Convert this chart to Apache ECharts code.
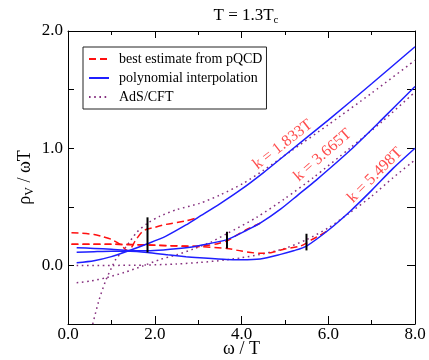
<!DOCTYPE html>
<html>
<head>
<meta charset="utf-8">
<script src="https://cdn.jsdelivr.net/npm/echarts@6/dist/echarts.min.js"></script>
<style>
  html, body { margin: 0; padding: 0; background: #fff; }
  #main { width: 429px; height: 360px; }
</style>
</head>
<body>
<div id="main"></div>
<script>
// momenta k/T for the three sets of curves
const kValues = [1.833, 3.665, 5.498];
const kLabels = ['k = 1.833T', 'k = 3.665T', 'k = 5.498T'];

// polynomial interpolation (blue, solid)
const blue1 = [[0.2,0.023],[0.6,0.04],[1.0,0.075],[1.4,0.125],[1.833,0.185],[2.26,0.25],[2.72,0.345],[3.0,0.41],[3.5,0.525],[4.0,0.65],[4.5,0.79],[5.0,0.94],[6.0,1.24],[7.0,1.55],[8.0,1.866]];
const blue2 = [[0.2,0.15],[0.6,0.145],[1.0,0.137],[1.4,0.128],[1.833,0.125],[2.2,0.132],[2.72,0.15],[3.04,0.17],[3.665,0.22],[4.12,0.3],[4.43,0.36],[4.9,0.48],[5.3,0.6],[5.73,0.73],[6.5,0.98],[7.25,1.25],[8.0,1.526]];
const blue3 = [[0.2,0.113],[0.6,0.117],[1.0,0.12],[1.43,0.12],[1.833,0.11],[2.3,0.09],[2.72,0.074],[3.04,0.065],[3.66,0.05],[4.0,0.048],[4.43,0.055],[4.9,0.094],[5.2,0.125],[5.498,0.165],[6.0,0.3],[6.5,0.46],[7.0,0.64],[7.5,0.83],[8.0,1.0]];

// best estimate from pQCD (red, dashed)
const pqcd1 = [[0.08,0.278],[0.3,0.275],[0.6,0.264],[0.8,0.245],[1.0,0.222],[1.2,0.18],[1.38,0.125],[1.46,0.15],[1.55,0.21],[1.72,0.29],[1.833,0.31],[1.95,0.32],[2.26,0.35],[2.72,0.38],[3.0,0.41]];
const pqcd2 = [[0.08,0.18],[0.5,0.18],[1.0,0.18],[1.5,0.178],[2.0,0.172],[2.5,0.165],[2.9,0.163],[3.2,0.17],[3.45,0.185],[3.665,0.21],[3.9,0.26],[4.12,0.306],[4.43,0.36]];
const pqcd3 = [[0.08,0.18],[1.0,0.18],[2.0,0.172],[2.7,0.165],[3.04,0.16],[3.66,0.145],[4.0,0.122],[4.43,0.103],[4.7,0.11],[4.96,0.136],[5.35,0.164],[5.498,0.19],[5.6,0.215],[5.8,0.255],[6.0,0.3]];

// AdS/CFT (purple, dotted)
const ads1 = [[0.57,-0.5],[0.72,-0.29],[0.88,-0.12],[1.03,0.0],[1.1,0.05],[1.35,0.165],[1.58,0.28],[1.833,0.36],[2.12,0.42],[2.5,0.475],[3.04,0.53],[3.5,0.6],[4.04,0.7],[4.5,0.81],[5.12,0.97],[6.0,1.2],[7.0,1.47],[8.0,1.75]];
const ads2 = [[0.2,-0.147],[0.5,-0.135],[0.88,-0.105],[1.3,-0.06],[1.72,-0.005],[2.12,0.05],[2.5,0.09],[2.89,0.14],[3.3,0.2],[3.66,0.27],[4.35,0.41],[5.0,0.57],[5.66,0.75],[6.5,1.0],[7.25,1.23],[8.0,1.48]];
const ads3 = [[0.2,0.0],[1.0,0.0],[1.8,0.003],[2.5,0.012],[3.04,0.025],[3.6,0.045],[4.0,0.065],[4.43,0.094],[4.96,0.14],[5.5,0.22],[6.0,0.32],[6.5,0.45],[7.0,0.59],[7.5,0.75],[8.0,0.9]];

// uncertainty bars at omega = k
const errLow = [0.11, 0.145, 0.128];
const errHigh = [0.41, 0.287, 0.27];

// where the k labels sit (data coords) and their angle
const labelPos = [[4.95, 1.03], [5.87, 0.94], [7.08, 0.77]];
const labelAngle = [38, 41, 45];

const PQCD = 'best estimate from pQCD';
const POLY = 'polynomial interpolation';
const ADS = 'AdS/CFT';
const FONT = 'Liberation Serif';

function curve(name, data, color, type, z) {
  return {
    name: name,
    type: 'line',
    data: data,
    symbol: 'none',
    smooth: 0.25,
    silent: true,
    z: z,
    lineStyle: { color: color, width: 1.5, type: type },
    itemStyle: { color: color }
  };
}

const series = [];
[ads1, ads2, ads3].forEach(d => series.push(curve(ADS, d, '#86307f', [1.6, 3.6], 2)));
[pqcd1, pqcd2, pqcd3].forEach(d => series.push(curve(PQCD, d, '#ff1010', [7, 4], 3)));
[blue1, blue2, blue3].forEach(d => series.push(curve(POLY, d, '#1f1fff', 'solid', 4)));

kValues.forEach((k, i) => {
  series.push({
    type: 'line',
    data: [[k, errLow[i]], [k, errHigh[i]]],
    symbol: 'none',
    silent: true,
    z: 5,
    lineStyle: { color: '#000', width: 2 }
  });
  series.push({
    type: 'scatter',
    data: [labelPos[i]],
    symbolSize: 0,
    silent: true,
    z: 6,
    label: {
      show: true,
      position: 'inside',
      formatter: kLabels[i],
      rotate: labelAngle[i],
      color: '#ff2020',
      fontFamily: FONT,
      fontSize: 16
    }
  });
});

const axisLineStyle = { color: '#000', width: 1 };
const axisLine = { show: true, onZero: false, lineStyle: axisLineStyle };

const option = {
  animation: false,
  backgroundColor: '#fff',
  title: {
    text: '{a|T = 1.3T}{s|c}',
    left: 241,
    top: 1,
    textAlign: 'center',
    textStyle: {
      fontWeight: 'normal',
      rich: {
        a: { fontFamily: FONT, fontSize: 17, fontWeight: 'normal', color: '#000' },
        s: { fontFamily: FONT, fontSize: 11, fontWeight: 'normal', color: '#000', padding: [9, 0, 0, 0] }
      }
    }
  },
  legend: {
    data: [PQCD, POLY, ADS],
    orient: 'vertical',
    left: 83,
    top: 47,
    itemWidth: 20,
    itemHeight: 14,
    itemGap: 5,
    padding: [5, 4, 5, 5],
    borderColor: '#222',
    borderWidth: 1,
    selectedMode: false,
    itemStyle: { opacity: 0 },
    textStyle: { fontFamily: FONT, fontSize: 14, color: '#000', padding: [0, 0, 0, 5] }
  },
  grid: { left: 68, right: 14, top: 31, bottom: 36, containLabel: false, outerBoundsMode: 'none' },
  xAxis: [{
    type: 'value', min: 0, max: 8, interval: 2, position: 'bottom',
    axisLine: axisLine,
    axisTick: { show: true, inside: true, length: 8, lineStyle: axisLineStyle },
    minorTick: { show: true, splitNumber: 2, length: 4, lineStyle: axisLineStyle },
    splitLine: { show: false },
    axisLabel: { formatter: v => v.toFixed(1), fontFamily: FONT, fontSize: 17, color: '#000', margin: 2 },
    name: 'ω / T', nameLocation: 'middle', nameGap: 16, nameMoveOverlap: false,
    nameTextStyle: { fontFamily: FONT, fontSize: 18, color: '#000' }
  }, {
    type: 'value', min: 0, max: 8, interval: 2, position: 'top',
    axisLine: axisLine,
    axisTick: { show: true, inside: true, length: 7, lineStyle: axisLineStyle },
    minorTick: { show: true, splitNumber: 2, length: 4, lineStyle: axisLineStyle },
    splitLine: { show: false },
    axisLabel: { show: false }
  }],
  yAxis: [{
    type: 'value', min: -0.5, max: 2.0, interval: 0.5, position: 'left',
    axisLine: axisLine,
    axisTick: { show: true, inside: true, length: 6, lineStyle: axisLineStyle },
    splitLine: { show: false },
    axisLabel: {
      formatter: v => (Math.abs(v - Math.round(v)) < 1e-9 ? v.toFixed(1) : ''),
      fontFamily: FONT, fontSize: 17, color: '#000', margin: 5
    },
    name: '{a|ρ}{s|V}{a| / ωT}', nameLocation: 'middle', nameGap: 32, nameMoveOverlap: false,
    nameTextStyle: {
      rich: {
        a: { fontFamily: FONT, fontSize: 18, color: '#000' },
        s: { fontFamily: FONT, fontSize: 12, color: '#000', padding: [9, 0, 0, 0] }
      }
    }
  }, {
    type: 'value', min: -0.5, max: 2.0, interval: 0.5, position: 'right',
    axisLine: axisLine,
    axisTick: { show: true, inside: true, length: 8, lineStyle: axisLineStyle },
    splitLine: { show: false },
    axisLabel: { show: false }
  }],
  series: series
};

const chart = echarts.init(document.getElementById('main'));
chart.setOption(option);
</script>
</body>
</html>
